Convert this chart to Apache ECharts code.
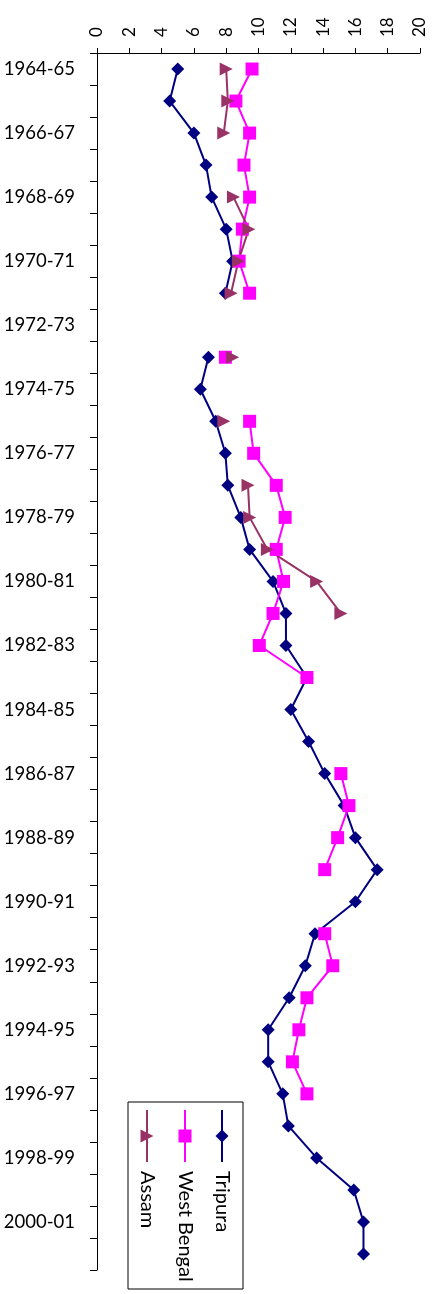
<!DOCTYPE html>
<html>
<head>
<meta charset="utf-8">
<script src="https://cdn.jsdelivr.net/npm/echarts@6/dist/echarts.min.js"></script>
<style>
  html, body { margin: 0; padding: 0; background: #fff; }
  #chart { width: 437px; height: 1294px; }
</style>
</head>
<body>
<div id="chart"></div>
<script>
// Financial years shown down the category axis
const years = [
  '1964-65', '1965-66', '1966-67', '1967-68', '1968-69', '1969-70', '1970-71', '1971-72',
  '1972-73', '1973-74', '1974-75', '1975-76', '1976-77', '1977-78', '1978-79', '1979-80',
  '1980-81', '1981-82', '1982-83', '1983-84', '1984-85', '1985-86', '1986-87', '1987-88',
  '1988-89', '1989-90', '1990-91', '1991-92', '1992-93', '1993-94', '1994-95', '1995-96',
  '1996-97', '1997-98', '1998-99', '1999-00', '2000-01', '2001-02'
];

// Series values (null = no figure for that year)
const tripura = [
  5.0, 4.5, 6.0, 6.75, 7.1, 8.0, 8.4, 7.95,
  null, 6.9, 6.4, 7.35, 7.95, 8.1, 8.9, 9.45,
  10.9, 11.7, 11.7, 13.0, 12.0, 13.1, 14.1, 15.3,
  16.0, 17.35, 16.0, 13.5, 12.9, 11.9, 10.6, 10.6,
  11.5, 11.85, 13.6, 15.9, 16.5, 16.5
];
const westBengal = [
  9.6, 8.6, 9.45, 9.1, 9.45, 9.0, 8.8, 9.45,
  null, 7.95, null, 9.45, 9.7, 11.1, 11.65, 11.1,
  11.55, 10.9, 10.05, 13.0, null, null, 15.1, 15.6,
  14.9, 14.1, null, 14.1, 14.6, 13.0, 12.5, 12.1,
  13.0, null, null, null, null, null
];
const assam = [
  8.0, 8.1, 7.85, null, 8.45, 9.4, 8.75, 8.3,
  null, 8.4, null, 7.85, null, 9.35, 9.45, 10.55,
  13.6, 15.1, null, null, null, null, null, null,
  null, null, null, null, null, null, null, null,
  null, null, null, null, null, null
];

// Value axis range
const valueMin = 0;
const valueMax = 20;
const valueStep = 2;

const seriesNames = ['Tripura', 'West Bengal', 'Assam'];
const seriesColors = ['#000080', '#FF00FF', '#993366'];

const FONT = 'Lato, "Open Sans", "DejaVu Sans", sans-serif';

const chart = echarts.init(document.getElementById('chart'), null, { renderer: 'canvas' });

function lineSeries(name, data, color, symbol, size, rotate) {
  return {
    name: name,
    type: 'line',
    data: data,
    connectNulls: false,
    symbol: symbol,
    symbolSize: size,
    symbolRotate: rotate || 0,
    showAllSymbol: true,
    silent: true,
    lineStyle: { color: color, width: 2 },
    itemStyle: { color: color, borderWidth: 0 },
    emphasis: { disabled: true }
  };
}

// Legend box with rotated entries, placed in the lower-left of the plot
const legendX = [222, 185, 147];   // Tripura, West Bengal, Assam
const legendSymbols = ['diamond', 'square', 'triangle'];
const legendGraphics = [
  {
    type: 'rect',
    shape: { x: 128, y: 1102, width: 115, height: 187 },
    style: { fill: '#fff', stroke: '#000', lineWidth: 1 },
    z: 10
  }
];
seriesNames.forEach(function (name, i) {
  const x = legendX[i];
  const c = seriesColors[i];
  legendGraphics.push({
    type: 'line',
    shape: { x1: x, y1: 1110, x2: x, y2: 1162 },
    style: { stroke: c, lineWidth: 2 },
    z: 11
  });
  const cy = 1136;
  let sym;
  if (legendSymbols[i] === 'diamond') {
    sym = { type: 'polygon', shape: { points: [[x, cy - 6.5], [x + 6.5, cy], [x, cy + 6.5], [x - 6.5, cy]] } };
  } else if (legendSymbols[i] === 'square') {
    sym = { type: 'rect', shape: { x: x - 6.5, y: cy - 6.5, width: 13, height: 13 } };
  } else {
    sym = { type: 'polygon', shape: { points: [[x - 6.5, cy - 6.5], [x + 6.5, cy], [x - 6.5, cy + 6.5]] } };
  }
  sym.style = { fill: c };
  sym.z = 12;
  legendGraphics.push(sym);
  legendGraphics.push({
    type: 'text',
    x: x,
    y: 1171,
    rotation: -Math.PI / 2,
    style: {
      text: name,
      fill: '#000',
      font: '20px ' + FONT,
      align: 'left',
      verticalAlign: 'middle'
    },
    z: 12
  });
});

chart.setOption({
  animation: false,
  backgroundColor: '#fff',
  grid: { left: 97, top: 53, width: 323, height: 1217, containLabel: false, outerBoundsMode: 'none' },
  xAxis: {
    type: 'value',
    position: 'top',
    min: valueMin,
    max: valueMax,
    interval: valueStep,
    axisLine: { show: true, lineStyle: { color: '#000', width: 1 } },
    axisTick: { show: true, inside: false, length: 5, lineStyle: { color: '#000', width: 1 } },
    splitLine: { show: false },
    axisLabel: { rotate: -90, margin: 16, fontFamily: FONT, fontSize: 17, color: '#000' }
  },
  yAxis: {
    type: 'category',
    data: years,
    inverse: true,
    boundaryGap: true,
    axisLine: { show: true, onZero: false, lineStyle: { color: '#000', width: 1 } },
    axisTick: { show: true, interval: 0, length: 7, lineStyle: { color: '#000', width: 1 } },
    splitLine: { show: false },
    axisLabel: { interval: 1, margin: 22, fontFamily: FONT, fontSize: 18.5, color: '#000' }
  },
  series: [
    lineSeries(seriesNames[0], tripura, seriesColors[0], 'diamond', 13),
    lineSeries(seriesNames[1], westBengal, seriesColors[1], 'rect', 13),
    lineSeries(seriesNames[2], assam, seriesColors[2], 'triangle', 13, -90)
  ],
  graphic: legendGraphics
});
</script>
</body>
</html>
